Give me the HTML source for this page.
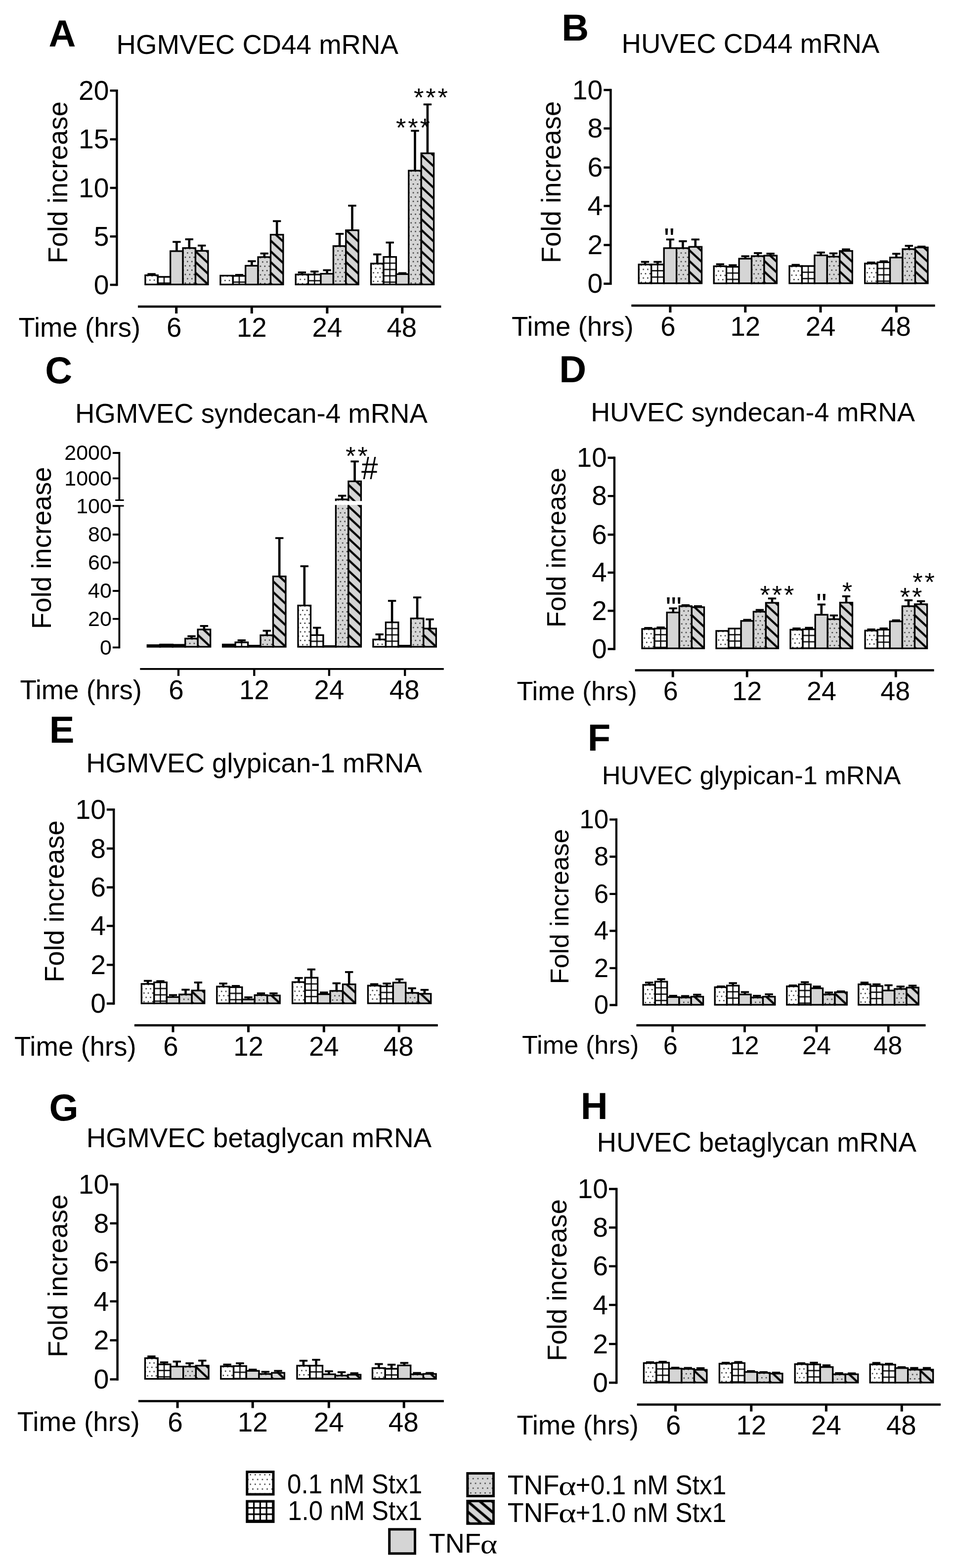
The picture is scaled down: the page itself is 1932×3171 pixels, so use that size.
<!DOCTYPE html>
<html lang="en">
<head>
<meta charset="utf-8">
<title>Proteoglycan mRNA expression in HGMVEC and HUVEC</title>
<style>
html,body{margin:0;padding:0;background:#fff;}
body{width:1932px;height:3171px;overflow:hidden;}
svg{display:block;}
text{font-family:"Liberation Sans",sans-serif;fill:#000;}
.ax{stroke:#000;fill:none;}
.b{stroke:#000;stroke-width:3.3;}
.es{stroke:#000;stroke-width:4.6;fill:none;}
.ec{stroke:#000;stroke-width:3.8;fill:none;}
</style>
</head>
<body>
<svg width="1932" height="3171" viewBox="0 0 1932 3171">
<defs>
<pattern id="pd" patternUnits="userSpaceOnUse" width="8.8" height="17.4" x="2" y="3">
<rect width="9" height="17.4" fill="#fff"/>
<rect x="0.1" y="0.1" width="2.4" height="2.4" fill="#1a1a1a"/><rect x="4.5" y="8.8" width="2.4" height="2.4" fill="#1a1a1a"/>
</pattern>
<pattern id="pyd" patternUnits="userSpaceOnUse" width="8.8" height="17.4" x="2" y="3">
<rect width="9" height="17.4" fill="#d5d5d5"/>
<rect x="0.1" y="0.1" width="2.4" height="2.4" fill="#2a2a2a"/><rect x="4.5" y="8.8" width="2.4" height="2.4" fill="#2a2a2a"/>
</pattern>
<pattern id="pg" patternUnits="userSpaceOnUse" width="12.8" height="12.8" x="0" y="0">
<rect width="12.8" height="12.8" fill="#fff"/>
<path d="M6.4 0V12.8M0 6.4H12.8" stroke="#000" stroke-width="2.4"/>
</pattern>
<pattern id="py" patternUnits="userSpaceOnUse" width="4" height="4">
<rect width="4" height="4" fill="#d5d5d5"/>
</pattern>
<pattern id="ph" patternUnits="userSpaceOnUse" width="23.2" height="21.7" x="0" y="0">
<rect width="23.2" height="21.7" fill="#d5d5d5"/>
<path d="M-23.2 -21.7L46.4 43.4M-23.2 0L23.2 43.4M0 -21.7L46.4 21.7" stroke="#000" stroke-width="4.3"/>
</pattern>
<pattern id="pdl" patternUnits="userSpaceOnUse" width="9.7" height="19.3" x="505.25" y="2981.05">
<rect width="9.7" height="19.3" fill="#fff"/>
<rect x="0.2" y="0.2" width="2.4" height="2.3" fill="#1a1a1a"/><rect x="5.05" y="9.8" width="2.4" height="2.3" fill="#1a1a1a"/>
</pattern>
<pattern id="pydl" patternUnits="userSpaceOnUse" width="9.7" height="19.4" x="955.8" y="2988.85">
<rect width="9.7" height="19.4" fill="#d5d5d5"/>
<rect x="0.2" y="0.2" width="2.4" height="2.3" fill="#2a2a2a"/><rect x="5.05" y="9.8" width="2.4" height="2.3" fill="#2a2a2a"/>
</pattern>
<pattern id="pgl" patternUnits="userSpaceOnUse" width="12.8" height="12.8" x="494.4" y="3030.1">
<rect width="12.8" height="12.8" fill="#fff"/>
<path d="M6.4 0V12.8M0 6.4H12.8" stroke="#000" stroke-width="3.2"/>
</pattern>
<pattern id="phl" patternUnits="userSpaceOnUse" width="24.7" height="21" x="948.66" y="3038.36">
<rect width="24.7" height="21" fill="#d5d5d5"/>
<path d="M-24.7 -21L49.4 42M-24.7 0L24.7 42M0 -21L49.4 21" stroke="#000" stroke-width="5.4"/>
</pattern>
<pattern id="A0" href="#pd" x="302" y="565.2"/>
<pattern id="A1" href="#pg" x="325.6" y="566.1"/>
<pattern id="A3" href="#pyd" x="378.1" y="510.2"/>
<pattern id="A4" href="#ph" x="420" y="574.5"/>
<pattern id="A5" href="#pd" x="454" y="565.9"/>
<pattern id="A6" href="#pg" x="477.6" y="564.1"/>
<pattern id="A8" href="#pyd" x="530.1" y="528.5"/>
<pattern id="A9" href="#ph" x="572" y="574.5"/>
<pattern id="A10" href="#pd" x="606.3" y="563.7"/>
<pattern id="A11" href="#pg" x="629.9" y="561.3"/>
<pattern id="A13" href="#pyd" x="682.4" y="506.2"/>
<pattern id="A14" href="#ph" x="724.3" y="574.5"/>
<pattern id="A15" href="#pd" x="758.7" y="541.6"/>
<pattern id="A16" href="#pg" x="782.3" y="525.8"/>
<pattern id="A18" href="#pyd" x="834.8" y="353.7"/>
<pattern id="A19" href="#ph" x="876.7" y="574.5"/>
<pattern id="B0" href="#pd" x="1300.3" y="543.5"/>
<pattern id="B1" href="#pg" x="1324" y="541.1"/>
<pattern id="B3" href="#pyd" x="1376.7" y="510.4"/>
<pattern id="B4" href="#ph" x="1418.7" y="572.1"/>
<pattern id="B5" href="#pd" x="1452.2" y="546.9"/>
<pattern id="B6" href="#pg" x="1475.9" y="545.8"/>
<pattern id="B8" href="#pyd" x="1528.6" y="526.4"/>
<pattern id="B9" href="#ph" x="1570.6" y="572.1"/>
<pattern id="B10" href="#pd" x="1605" y="546.6"/>
<pattern id="B11" href="#pg" x="1628.7" y="544.2"/>
<pattern id="B13" href="#pyd" x="1681.4" y="527.6"/>
<pattern id="B14" href="#ph" x="1723.4" y="572.1"/>
<pattern id="B15" href="#pd" x="1757.7" y="541.5"/>
<pattern id="B16" href="#pg" x="1781.4" y="536.6"/>
<pattern id="B18" href="#pyd" x="1834.1" y="512.3"/>
<pattern id="B19" href="#ph" x="1876.1" y="572.1"/>
<pattern id="C0" href="#pd" x="306.4" y="1313.2"/>
<pattern id="C1" href="#pg" x="330.1" y="1309.5"/>
<pattern id="C3" href="#pyd" x="382.8" y="1299.9"/>
<pattern id="C4" href="#ph" x="424.8" y="1307.1"/>
<pattern id="C5" href="#pd" x="458.7" y="1311.9"/>
<pattern id="C6" href="#pg" x="482.4" y="1305.1"/>
<pattern id="C8" href="#pyd" x="535.1" y="1293.2"/>
<pattern id="C9" href="#ph" x="577.1" y="1307.1"/>
<pattern id="C10" href="#pd" x="611.1" y="1233"/>
<pattern id="C11" href="#pg" x="634.8" y="1290.5"/>
<pattern id="C13" href="#pyd" x="687.5" y="1018.5"/>
<pattern id="C14" href="#ph" x="729.5" y="1307.1"/>
<pattern id="C15" href="#pd" x="763" y="1301.7"/>
<pattern id="C16" href="#pg" x="786.7" y="1264.7"/>
<pattern id="C18" href="#pyd" x="839.4" y="1259.1"/>
<pattern id="C19" href="#ph" x="881.4" y="1307.1"/>
<pattern id="D0" href="#pd" x="1307" y="1280.4"/>
<pattern id="D1" href="#pg" x="1330.2" y="1277.2"/>
<pattern id="D3" href="#pyd" x="1382.4" y="1234.3"/>
<pattern id="D4" href="#ph" x="1423.7" y="1310.3"/>
<pattern id="D5" href="#pd" x="1457" y="1284.4"/>
<pattern id="D6" href="#pg" x="1480.2" y="1277.2"/>
<pattern id="D8" href="#pyd" x="1532.4" y="1245.5"/>
<pattern id="D9" href="#ph" x="1573.7" y="1310.3"/>
<pattern id="D10" href="#pd" x="1607" y="1281.9"/>
<pattern id="D11" href="#pg" x="1630.2" y="1278.7"/>
<pattern id="D13" href="#pyd" x="1682.4" y="1260.6"/>
<pattern id="D14" href="#ph" x="1723.7" y="1310.3"/>
<pattern id="D15" href="#pd" x="1758.1" y="1283.7"/>
<pattern id="D16" href="#pg" x="1781.3" y="1279.5"/>
<pattern id="D18" href="#pyd" x="1833.5" y="1234.4"/>
<pattern id="D19" href="#ph" x="1874.8" y="1310.3"/>
<pattern id="E0" href="#pd" x="294.4" y="1998.3"/>
<pattern id="E1" href="#pg" x="318.1" y="1992.7"/>
<pattern id="E3" href="#pyd" x="370.8" y="2019.6"/>
<pattern id="E4" href="#ph" x="412.8" y="2028.2"/>
<pattern id="E5" href="#pd" x="446.9" y="2003.6"/>
<pattern id="E6" href="#pg" x="470.6" y="2002.5"/>
<pattern id="E8" href="#pyd" x="523.3" y="2020.9"/>
<pattern id="E9" href="#ph" x="565.3" y="2028.2"/>
<pattern id="E10" href="#pd" x="599.7" y="1994.6"/>
<pattern id="E11" href="#pg" x="623.4" y="1983.4"/>
<pattern id="E13" href="#pyd" x="676.1" y="2012.4"/>
<pattern id="E14" href="#ph" x="718.1" y="2028.2"/>
<pattern id="E15" href="#pd" x="752.4" y="2001.8"/>
<pattern id="E16" href="#pg" x="776.1" y="2000.7"/>
<pattern id="E18" href="#pyd" x="828.8" y="2016.4"/>
<pattern id="E19" href="#ph" x="870.8" y="2028.2"/>
<pattern id="F0" href="#pd" x="1309.1" y="2000.1"/>
<pattern id="F1" href="#pg" x="1331.1" y="1991.3"/>
<pattern id="F3" href="#pyd" x="1382" y="2025.7"/>
<pattern id="F4" href="#ph" x="1421.7" y="2031.1"/>
<pattern id="F5" href="#pd" x="1454.3" y="2004.9"/>
<pattern id="F6" href="#pg" x="1476.3" y="1999.3"/>
<pattern id="F8" href="#pyd" x="1527.2" y="2025.7"/>
<pattern id="F9" href="#ph" x="1566.9" y="2031.1"/>
<pattern id="F10" href="#pd" x="1599.8" y="2003.1"/>
<pattern id="F11" href="#pg" x="1621.8" y="1996.7"/>
<pattern id="F13" href="#pyd" x="1672.7" y="2019.6"/>
<pattern id="F14" href="#ph" x="1712.4" y="2031.1"/>
<pattern id="F15" href="#pd" x="1744.8" y="1999.1"/>
<pattern id="F16" href="#pg" x="1766.8" y="2000.2"/>
<pattern id="F18" href="#pyd" x="1817.7" y="2008.4"/>
<pattern id="F19" href="#ph" x="1857.4" y="2031.1"/>
<pattern id="G0" href="#pd" x="301.6" y="2755.1"/>
<pattern id="G1" href="#pg" x="325.7" y="2765.2"/>
<pattern id="G3" href="#pyd" x="378.8" y="2772.1"/>
<pattern id="G4" href="#ph" x="421.3" y="2787.6"/>
<pattern id="G5" href="#pd" x="454.9" y="2771.6"/>
<pattern id="G6" href="#pg" x="479" y="2768.7"/>
<pattern id="G8" href="#pyd" x="532.1" y="2787.1"/>
<pattern id="G9" href="#ph" x="574.6" y="2787.6"/>
<pattern id="G10" href="#pd" x="609.1" y="2770.4"/>
<pattern id="G11" href="#pg" x="633.2" y="2768"/>
<pattern id="G13" href="#pyd" x="686.3" y="2790.4"/>
<pattern id="G14" href="#ph" x="728.8" y="2787.6"/>
<pattern id="G15" href="#pd" x="761.6" y="2775.2"/>
<pattern id="G16" href="#pg" x="785.7" y="2774.2"/>
<pattern id="G18" href="#pyd" x="838.8" y="2787.8"/>
<pattern id="G19" href="#ph" x="881.3" y="2787.6"/>
<pattern id="H0" href="#pd" x="1310.4" y="2765"/>
<pattern id="H1" href="#pg" x="1334.2" y="2762"/>
<pattern id="H3" href="#pyd" x="1387" y="2776.9"/>
<pattern id="H4" href="#ph" x="1429.1" y="2795.2"/>
<pattern id="H5" href="#pd" x="1463.4" y="2766.3"/>
<pattern id="H6" href="#pg" x="1487.2" y="2762.6"/>
<pattern id="H8" href="#pyd" x="1540" y="2784.9"/>
<pattern id="H9" href="#ph" x="1582.1" y="2795.2"/>
<pattern id="H10" href="#pd" x="1616.3" y="2767.2"/>
<pattern id="H11" href="#pg" x="1640.1" y="2765.4"/>
<pattern id="H13" href="#pyd" x="1692.9" y="2787.8"/>
<pattern id="H14" href="#ph" x="1735" y="2795.2"/>
<pattern id="H15" href="#pd" x="1768.2" y="2767.8"/>
<pattern id="H16" href="#pg" x="1792" y="2765.9"/>
<pattern id="H18" href="#pyd" x="1844.8" y="2778.4"/>
<pattern id="H19" href="#ph" x="1886.9" y="2795.2"/>
</defs>
<g id="panelA">
<text x="98.5" y="93.5" font-size="76" font-weight="bold">A</text>
<text x="235.6" y="108.6" font-size="54.6">HGMVEC CD44 mRNA</text>
<text transform="translate(136.4,369) rotate(-90)" font-size="54.6" text-anchor="middle">Fold increase</text>
<text x="37.6" y="680.8" font-size="54.6">Time (hrs)</text>
<path d="M236.4 181.1V578.2" stroke-width="4.5" class="ax"/>
<path d="M222.6 183.3H236.4M222.6 281.7H236.4M222.6 380H236.4M222.6 478.3H236.4M222.6 576H236.4" stroke-width="4.5" class="ax"/>
<text x="220.6" y="201.9" font-size="55.3" text-anchor="end">20</text>
<text x="220.6" y="300.3" font-size="55.3" text-anchor="end">15</text>
<text x="220.6" y="398.6" font-size="55.3" text-anchor="end">10</text>
<text x="220.6" y="496.9" font-size="55.3" text-anchor="end">5</text>
<text x="220.6" y="594.6" font-size="55.3" text-anchor="end">0</text>
<path d="M279 620H892.4" stroke-width="4.5" class="ax"/>
<path d="M356.7 620V634M509.3 620V634M661.9 620V634M813.8 620V634" stroke-width="5" class="ax"/>
<text x="352.2" y="680.8" font-size="54.6" text-anchor="middle">6</text>
<text x="509.3" y="680.8" font-size="54.6" text-anchor="middle">12</text>
<text x="661.9" y="680.8" font-size="54.6" text-anchor="middle">24</text>
<text x="812.8" y="680.8" font-size="54.6" text-anchor="middle">48</text>
<path d="M306.6 556V554.2" class="es"/><path d="M298.4 554.2H314.8" class="ec"/>
<rect x="293.9" y="556.6" width="25.4" height="18.7" fill="url(#A0)" class="b"/>
<rect x="319.3" y="559.9" width="25.4" height="15.4" fill="url(#A1)" class="b"/>
<path d="M357.4 507.3V489.2" class="es"/><path d="M349.2 489.2H365.6" class="ec"/>
<rect x="344.7" y="507.9" width="25.4" height="67.4" fill="#d5d5d5" class="b"/>
<path d="M382.8 501V483.9" class="es"/><path d="M374.6 483.9H391" class="ec"/>
<rect x="370.1" y="501.6" width="25.4" height="73.7" fill="url(#A3)" class="b"/>
<path d="M408.2 506.7V496.6" class="es"/><path d="M400 496.6H416.4" class="ec"/>
<rect x="395.5" y="507.3" width="25.4" height="68" fill="url(#A4)" class="b"/>
<rect x="445.9" y="557.4" width="25.4" height="18" fill="url(#A5)" class="b"/>
<path d="M484 557.3V555.9" class="es"/><path d="M475.8 555.9H492.2" class="ec"/>
<rect x="471.3" y="557.9" width="25.4" height="17.4" fill="url(#A6)" class="b"/>
<path d="M509.4 536.7V528.2" class="es"/><path d="M501.2 528.2H517.6" class="ec"/>
<rect x="496.7" y="537.4" width="25.4" height="38" fill="#d5d5d5" class="b"/>
<path d="M534.8 519.3V512.6" class="es"/><path d="M526.6 512.6H543" class="ec"/>
<rect x="522.1" y="519.9" width="25.4" height="55.4" fill="url(#A8)" class="b"/>
<path d="M560.2 474V447.2" class="es"/><path d="M552 447.2H568.4" class="ec"/>
<rect x="547.5" y="474.6" width="25.4" height="100.7" fill="url(#A9)" class="b"/>
<path d="M610.9 554.5V550.9" class="es"/><path d="M602.7 550.9H619.1" class="ec"/>
<rect x="598.2" y="555.1" width="25.4" height="20.2" fill="url(#A10)" class="b"/>
<path d="M636.3 554.5V549.1" class="es"/><path d="M628.1 549.1H644.5" class="ec"/>
<rect x="623.6" y="555.1" width="25.4" height="20.2" fill="url(#A11)" class="b"/>
<path d="M661.7 553V546.4" class="es"/><path d="M653.5 546.4H669.9" class="ec"/>
<rect x="649" y="553.6" width="25.4" height="21.7" fill="#d5d5d5" class="b"/>
<path d="M687.1 497V472.9" class="es"/><path d="M678.9 472.9H695.3" class="ec"/>
<rect x="674.4" y="497.6" width="25.4" height="77.7" fill="url(#A13)" class="b"/>
<path d="M712.5 465V415.9" class="es"/><path d="M704.3 415.9H720.7" class="ec"/>
<rect x="699.8" y="465.6" width="25.4" height="109.7" fill="url(#A14)" class="b"/>
<path d="M763.3 532.4V514.5" class="es"/><path d="M755.1 514.5H771.5" class="ec"/>
<rect x="750.6" y="533" width="25.4" height="42.3" fill="url(#A15)" class="b"/>
<path d="M788.7 519V490.5" class="es"/><path d="M780.5 490.5H796.9" class="ec"/>
<rect x="776" y="519.6" width="25.4" height="55.7" fill="url(#A16)" class="b"/>
<path d="M814.1 553.7V552.4" class="es"/><path d="M805.9 552.4H822.3" class="ec"/>
<rect x="801.4" y="554.4" width="25.4" height="21" fill="#d5d5d5" class="b"/>
<path d="M839.5 344.5V264.5" class="es"/><path d="M831.3 264.5H847.7" class="ec"/>
<rect x="826.8" y="345.1" width="25.4" height="230.2" fill="url(#A18)" class="b"/>
<path d="M864.9 309.4V211.2" class="es"/><path d="M856.7 211.2H873.1" class="ec"/>
<rect x="852.2" y="310" width="25.4" height="265.3" fill="url(#A19)" class="b"/>
<text x="873.4" y="214.8" font-size="52.5" text-anchor="middle" letter-spacing="3.8">***</text>
<text x="837.4" y="275.8" font-size="52.5" text-anchor="middle" letter-spacing="3.8">***</text>
</g>
<g id="panelB">
<text x="1136.3" y="82" font-size="76" font-weight="bold">B</text>
<text x="1257.5" y="106.8" font-size="54.6">HUVEC CD44 mRNA</text>
<text transform="translate(1133.5,368.5) rotate(-90)" font-size="54.6" text-anchor="middle">Fold increase</text>
<text x="1035" y="679.3" font-size="54.6">Time (hrs)</text>
<path d="M1235.4 179.8V576" stroke-width="4.5" class="ax"/>
<path d="M1221.3 182H1235.4M1221.3 259.8H1235.4M1221.3 338.7H1235.4M1221.3 416.5H1235.4M1221.3 495.6H1235.4M1221.3 573.7H1235.4" stroke-width="4.5" class="ax"/>
<text x="1219.3" y="200.6" font-size="55.3" text-anchor="end">10</text>
<text x="1219.3" y="278.4" font-size="55.3" text-anchor="end">8</text>
<text x="1219.3" y="357.3" font-size="55.3" text-anchor="end">6</text>
<text x="1219.3" y="435.1" font-size="55.3" text-anchor="end">4</text>
<text x="1219.3" y="514.2" font-size="55.3" text-anchor="end">2</text>
<text x="1219.3" y="592.3" font-size="55.3" text-anchor="end">0</text>
<path d="M1277.3 617.9H1891.6" stroke-width="4.5" class="ax"/>
<path d="M1355.9 617.9V631.9M1507.8 617.9V631.9M1660 617.9V631.9M1813.4 617.9V631.9" stroke-width="5" class="ax"/>
<text x="1351.4" y="678.7" font-size="54.6" text-anchor="middle">6</text>
<text x="1507.8" y="678.7" font-size="54.6" text-anchor="middle">12</text>
<text x="1660" y="678.7" font-size="54.6" text-anchor="middle">24</text>
<text x="1812.4" y="678.7" font-size="54.6" text-anchor="middle">48</text>
<path d="M1305 534.3V529.6" class="es"/><path d="M1296.8 529.6H1313.2" class="ec"/>
<rect x="1292.2" y="534.9" width="25.5" height="38" fill="url(#B0)" class="b"/>
<path d="M1330.4 534.3V529.6" class="es"/><path d="M1322.2 529.6H1338.6" class="ec"/>
<rect x="1317.7" y="534.9" width="25.5" height="38" fill="url(#B1)" class="b"/>
<path d="M1355.9 501.2V484.3" class="es"/><path d="M1347.7 484.3H1364.1" class="ec"/>
<rect x="1343.2" y="501.8" width="25.5" height="71.1" fill="#d5d5d5" class="b"/>
<path d="M1381.4 501.2V487.8" class="es"/><path d="M1373.2 487.8H1389.6" class="ec"/>
<rect x="1368.6" y="501.8" width="25.5" height="71.1" fill="url(#B3)" class="b"/>
<path d="M1406.8 498.6V484.3" class="es"/><path d="M1398.6 484.3H1415" class="ec"/>
<rect x="1394.1" y="499.2" width="25.5" height="73.7" fill="url(#B4)" class="b"/>
<path d="M1456.9 537.7V534.4" class="es"/><path d="M1448.7 534.4H1465.1" class="ec"/>
<rect x="1444.2" y="538.4" width="25.5" height="34.6" fill="url(#B5)" class="b"/>
<path d="M1482.3 539V536.3" class="es"/><path d="M1474.1 536.3H1490.5" class="ec"/>
<rect x="1469.6" y="539.6" width="25.5" height="33.3" fill="url(#B6)" class="b"/>
<path d="M1507.8 522.5V518.2" class="es"/><path d="M1499.6 518.2H1516" class="ec"/>
<rect x="1495.1" y="523.1" width="25.5" height="49.8" fill="#d5d5d5" class="b"/>
<path d="M1533.3 517.2V511.8" class="es"/><path d="M1525.1 511.8H1541.5" class="ec"/>
<rect x="1520.5" y="517.9" width="25.5" height="55.1" fill="url(#B8)" class="b"/>
<path d="M1558.7 516.4V512.9" class="es"/><path d="M1550.5 512.9H1566.9" class="ec"/>
<rect x="1546" y="517" width="25.5" height="55.9" fill="url(#B9)" class="b"/>
<path d="M1609.7 537.4V535.6" class="es"/><path d="M1601.5 535.6H1617.9" class="ec"/>
<rect x="1597" y="538" width="25.5" height="34.9" fill="url(#B10)" class="b"/>
<rect x="1622.4" y="538" width="25.5" height="34.9" fill="url(#B11)" class="b"/>
<path d="M1660.6 515.8V510.6" class="es"/><path d="M1652.4 510.6H1668.8" class="ec"/>
<rect x="1647.9" y="516.4" width="25.5" height="56.5" fill="#d5d5d5" class="b"/>
<path d="M1686.1 518.4V512.4" class="es"/><path d="M1677.9 512.4H1694.3" class="ec"/>
<rect x="1673.3" y="519" width="25.5" height="53.9" fill="url(#B13)" class="b"/>
<path d="M1711.5 506.9V504.3" class="es"/><path d="M1703.3 504.3H1719.7" class="ec"/>
<rect x="1698.8" y="507.5" width="25.5" height="65.4" fill="url(#B14)" class="b"/>
<path d="M1762.4 532.3V530.9" class="es"/><path d="M1754.2 530.9H1770.6" class="ec"/>
<rect x="1749.7" y="532.9" width="25.5" height="40" fill="url(#B15)" class="b"/>
<path d="M1787.8 529.8V528.4" class="es"/><path d="M1779.6 528.4H1796" class="ec"/>
<rect x="1775.1" y="530.4" width="25.5" height="42.5" fill="url(#B16)" class="b"/>
<path d="M1813.3 520.1V513.2" class="es"/><path d="M1805.1 513.2H1821.5" class="ec"/>
<rect x="1800.6" y="520.8" width="25.5" height="52.2" fill="#d5d5d5" class="b"/>
<path d="M1838.8 503.1V497.1" class="es"/><path d="M1830.6 497.1H1847" class="ec"/>
<rect x="1826" y="503.8" width="25.5" height="69.2" fill="url(#B18)" class="b"/>
<path d="M1864.2 499.8V498.7" class="es"/><path d="M1856 498.7H1872.4" class="ec"/>
<rect x="1851.5" y="500.4" width="25.5" height="72.5" fill="url(#B19)" class="b"/>
<text x="1354" y="502.5" font-size="60" text-anchor="middle">"</text>
</g>
<g id="panelC">
<text x="91.2" y="774.5" font-size="76" font-weight="bold">C</text>
<text x="152" y="855.1" font-size="54.6">HGMVEC syndecan-4 mRNA</text>
<text transform="translate(103,1108.3) rotate(-90)" font-size="54.6" text-anchor="middle">Fold increase</text>
<text x="40.4" y="1413.8" font-size="54.6">Time (hrs)</text>
<path d="M241.4 914.1V1011.5M241.4 1023V1311.2" stroke-width="3.8" class="ax"/>
<path d="M233.2 1011.5H250.6M227.9 1023H250.6" stroke-width="3.2" class="ax"/>
<path d="M227.9 916H241.4M227.9 967.3H241.4M227.9 1023.3H241.4M227.9 1081H241.4M227.9 1137.7H241.4M227.9 1195H241.4M227.9 1251.7H241.4M227.9 1309.3H241.4" stroke-width="3.8" class="ax"/>
<text x="225.9" y="930.2" font-size="43" text-anchor="end">2000</text>
<text x="225.9" y="981.5" font-size="43" text-anchor="end">1000</text>
<text x="225.9" y="1037.5" font-size="43" text-anchor="end">100</text>
<text x="225.9" y="1095.2" font-size="43" text-anchor="end">80</text>
<text x="225.9" y="1151.9" font-size="43" text-anchor="end">60</text>
<text x="225.9" y="1209.2" font-size="43" text-anchor="end">40</text>
<text x="225.9" y="1265.9" font-size="43" text-anchor="end">20</text>
<text x="225.9" y="1323.5" font-size="43" text-anchor="end">0</text>
<path d="M283.3 1352.9H897.8" stroke-width="3.8" class="ax"/>
<path d="M361 1352.9V1366.9M514.3 1352.9V1366.9M665.9 1352.9V1366.9M819.2 1352.9V1366.9" stroke-width="4.3" class="ax"/>
<text x="356.5" y="1413.8" font-size="54.6" text-anchor="middle">6</text>
<text x="514.3" y="1413.8" font-size="54.6" text-anchor="middle">12</text>
<text x="665.9" y="1413.8" font-size="54.6" text-anchor="middle">24</text>
<text x="818.2" y="1413.8" font-size="54.6" text-anchor="middle">48</text>
<rect x="298.3" y="1304.7" width="25.5" height="3.3" fill="#000" class="b"/>
<rect x="323.8" y="1303.4" width="25.5" height="4.6" fill="#000" class="b"/>
<rect x="349.3" y="1304" width="25.5" height="4" fill="#000" class="b"/>
<path d="M387.5 1290.7V1286.6" class="es"/><path d="M379.3 1286.6H395.7" class="ec"/>
<rect x="374.7" y="1291.4" width="25.5" height="16.6" fill="url(#C3)" class="b"/>
<path d="M412.9 1272.3V1265.9" class="es"/><path d="M404.7 1265.9H421.1" class="ec"/>
<rect x="400.2" y="1273" width="25.5" height="35" fill="url(#C4)" class="b"/>
<rect x="450.6" y="1303.4" width="25.5" height="4.6" fill="#000" class="b"/>
<path d="M488.8 1298.3V1294.9" class="es"/><path d="M480.6 1294.9H497" class="ec"/>
<rect x="476.1" y="1299" width="25.5" height="9" fill="url(#C6)" class="b"/>
<rect x="501.6" y="1305.7" width="25.5" height="2.3" fill="#000" class="b"/>
<path d="M539.8 1284V1275.6" class="es"/><path d="M531.6 1275.6H548" class="ec"/>
<rect x="527" y="1284.7" width="25.5" height="23.3" fill="url(#C8)" class="b"/>
<path d="M565.2 1165V1088.2" class="es"/><path d="M557 1088.2H573.4" class="ec"/>
<rect x="552.5" y="1165.7" width="25.5" height="142.3" fill="url(#C9)" class="b"/>
<path d="M615.8 1223.8V1145.1" class="es"/><path d="M607.6 1145.1H624" class="ec"/>
<rect x="603" y="1224.5" width="25.5" height="83.5" fill="url(#C10)" class="b"/>
<path d="M641.2 1283.7V1269.5" class="es"/><path d="M633 1269.5H649.4" class="ec"/>
<rect x="628.5" y="1284.4" width="25.5" height="23.6" fill="url(#C11)" class="b"/>
<rect x="654" y="1306.6" width="25.5" height="1.4" fill="#000" class="b"/>
<path d="M692.2 1009.3V1002.5" class="es"/><path d="M684 1002.5H700.4" class="ec"/>
<rect x="679.4" y="1009.9" width="25.5" height="298" fill="url(#C13)" class="b"/>
<path d="M717.6 972.7V933.2" class="es"/><path d="M709.4 933.2H725.8" class="ec"/>
<rect x="704.9" y="973.4" width="25.5" height="334.6" fill="url(#C14)" class="b"/>
<path d="M767.7 1292.5V1282.9" class="es"/><path d="M759.5 1282.9H775.9" class="ec"/>
<rect x="754.9" y="1293.2" width="25.5" height="14.8" fill="url(#C15)" class="b"/>
<path d="M793.1 1257.9V1215.1" class="es"/><path d="M784.9 1215.1H801.3" class="ec"/>
<rect x="780.4" y="1258.6" width="25.5" height="49.4" fill="url(#C16)" class="b"/>
<rect x="805.9" y="1305.7" width="25.5" height="2.3" fill="#000" class="b"/>
<path d="M844.1 1249.9V1208.2" class="es"/><path d="M835.9 1208.2H852.3" class="ec"/>
<rect x="831.3" y="1250.6" width="25.5" height="57.4" fill="url(#C18)" class="b"/>
<path d="M869.5 1270.4V1252.5" class="es"/><path d="M861.3 1252.5H877.7" class="ec"/>
<rect x="856.8" y="1271.1" width="25.5" height="36.9" fill="url(#C19)" class="b"/>
<rect x="677" y="1013.2" width="55.8" height="8" fill="#fff"/>
<text x="723.4" y="940.3" font-size="52.5" text-anchor="middle" letter-spacing="3.8">**</text>
<text x="747.7" y="969" font-size="65" text-anchor="middle" textLength="33.4" lengthAdjust="spacingAndGlyphs">#</text>
</g>
<g id="panelD">
<text x="1131.2" y="773.3" font-size="76" font-weight="bold">D</text>
<text x="1195.2" y="851.6" font-size="53.9">HUVEC syndecan-4 mRNA</text>
<text transform="translate(1144,1107.5) rotate(-90)" font-size="53.9" text-anchor="middle">Fold increase</text>
<text x="1045.4" y="1415.5" font-size="53.9">Time (hrs)</text>
<path d="M1242.9 923.6V1314.7" stroke-width="4.4" class="ax"/>
<path d="M1229.5 925.8H1242.9M1229.5 1003.1H1242.9M1229.5 1081.2H1242.9M1229.5 1158H1242.9M1229.5 1235.2H1242.9M1229.5 1312.5H1242.9" stroke-width="4.4" class="ax"/>
<text x="1227.5" y="944.1" font-size="54.6" text-anchor="end">10</text>
<text x="1227.5" y="1021.4" font-size="54.6" text-anchor="end">8</text>
<text x="1227.5" y="1099.5" font-size="54.6" text-anchor="end">6</text>
<text x="1227.5" y="1176.3" font-size="54.6" text-anchor="end">4</text>
<text x="1227.5" y="1253.5" font-size="54.6" text-anchor="end">2</text>
<text x="1227.5" y="1330.8" font-size="54.6" text-anchor="end">0</text>
<path d="M1284.7 1355.5H1889.6" stroke-width="4.4" class="ax"/>
<path d="M1361.2 1355.5V1369.5M1511.3 1355.5V1369.5M1662 1355.5V1369.5M1812.3 1355.5V1369.5" stroke-width="4.9" class="ax"/>
<text x="1356.7" y="1415.5" font-size="53.9" text-anchor="middle">6</text>
<text x="1511.3" y="1415.5" font-size="53.9" text-anchor="middle">12</text>
<text x="1662" y="1415.5" font-size="53.9" text-anchor="middle">24</text>
<text x="1811.3" y="1415.5" font-size="53.9" text-anchor="middle">48</text>
<path d="M1311.5 1271.2V1269.9" class="es"/><path d="M1303.3 1269.9H1319.7" class="ec"/>
<rect x="1299" y="1271.9" width="25.1" height="39.3" fill="url(#D0)" class="b"/>
<path d="M1336.6 1270.4V1268.9" class="es"/><path d="M1328.4 1268.9H1344.8" class="ec"/>
<rect x="1324.1" y="1271.1" width="25.1" height="40.1" fill="url(#D1)" class="b"/>
<path d="M1361.8 1237.9V1230.3" class="es"/><path d="M1353.5 1230.3H1370" class="ec"/>
<rect x="1349.2" y="1238.6" width="25.1" height="72.6" fill="#d5d5d5" class="b"/>
<path d="M1386.9 1225.1V1223.9" class="es"/><path d="M1378.7 1223.9H1395.1" class="ec"/>
<rect x="1374.3" y="1225.8" width="25.1" height="85.4" fill="url(#D3)" class="b"/>
<path d="M1412 1227.2V1225.9" class="es"/><path d="M1403.8 1225.9H1420.2" class="ec"/>
<rect x="1399.4" y="1227.9" width="25.1" height="83.3" fill="url(#D4)" class="b"/>
<rect x="1449" y="1275.9" width="25.1" height="35.3" fill="url(#D5)" class="b"/>
<rect x="1474.1" y="1271.1" width="25.1" height="40.1" fill="url(#D6)" class="b"/>
<path d="M1511.8 1255V1253.5" class="es"/><path d="M1503.5 1253.5H1520" class="ec"/>
<rect x="1499.2" y="1255.7" width="25.1" height="55.5" fill="#d5d5d5" class="b"/>
<path d="M1536.9 1236.3V1233.5" class="es"/><path d="M1528.7 1233.5H1545.1" class="ec"/>
<rect x="1524.3" y="1237" width="25.1" height="74.2" fill="url(#D8)" class="b"/>
<path d="M1562 1218.4V1210.3" class="es"/><path d="M1553.8 1210.3H1570.2" class="ec"/>
<rect x="1549.4" y="1219.1" width="25.1" height="92.1" fill="url(#D9)" class="b"/>
<path d="M1611.5 1272.7V1270.9" class="es"/><path d="M1603.3 1270.9H1619.7" class="ec"/>
<rect x="1599" y="1273.4" width="25.1" height="37.8" fill="url(#D10)" class="b"/>
<path d="M1636.6 1271.9V1269.6" class="es"/><path d="M1628.4 1269.6H1644.8" class="ec"/>
<rect x="1624.1" y="1272.6" width="25.1" height="38.6" fill="url(#D11)" class="b"/>
<path d="M1661.8 1242.6V1222.5" class="es"/><path d="M1653.5 1222.5H1670" class="ec"/>
<rect x="1649.2" y="1243.2" width="25.1" height="67.9" fill="#d5d5d5" class="b"/>
<path d="M1686.9 1251.4V1244.6" class="es"/><path d="M1678.7 1244.6H1695.1" class="ec"/>
<rect x="1674.3" y="1252.1" width="25.1" height="59.1" fill="url(#D13)" class="b"/>
<path d="M1712 1218V1205.9" class="es"/><path d="M1703.8 1205.9H1720.2" class="ec"/>
<rect x="1699.4" y="1218.7" width="25.1" height="92.5" fill="url(#D14)" class="b"/>
<path d="M1762.6 1274.5V1272.9" class="es"/><path d="M1754.4 1272.9H1770.8" class="ec"/>
<rect x="1750.1" y="1275.2" width="25.1" height="36" fill="url(#D15)" class="b"/>
<path d="M1787.7 1272.7V1270.9" class="es"/><path d="M1779.5 1270.9H1795.9" class="ec"/>
<rect x="1775.2" y="1273.4" width="25.1" height="37.8" fill="url(#D16)" class="b"/>
<path d="M1812.9 1255.9V1254.5" class="es"/><path d="M1804.7 1254.5H1821.1" class="ec"/>
<rect x="1800.3" y="1256.6" width="25.1" height="54.6" fill="#d5d5d5" class="b"/>
<path d="M1838 1225.2V1213.9" class="es"/><path d="M1829.8 1213.9H1846.2" class="ec"/>
<rect x="1825.4" y="1225.9" width="25.1" height="85.3" fill="url(#D18)" class="b"/>
<path d="M1863.1 1221.2V1215.8" class="es"/><path d="M1854.9 1215.8H1871.3" class="ec"/>
<rect x="1850.5" y="1221.9" width="25.1" height="89.3" fill="url(#D19)" class="b"/>
<text x="1363.2" y="1249.2" font-size="60" text-anchor="middle">"'</text>
<text x="1573.9" y="1220.8" font-size="52.5" text-anchor="middle" letter-spacing="3.8">***</text>
<text x="1662" y="1242.1" font-size="60" text-anchor="middle">"</text>
<text x="1715.9" y="1214.3" font-size="52.5" text-anchor="middle" letter-spacing="3.8">*</text>
<text x="1845.1" y="1224.8" font-size="52.5" text-anchor="middle" letter-spacing="3.8">**</text>
<text x="1870.4" y="1194.8" font-size="52.5" text-anchor="middle" letter-spacing="3.8">**</text>
</g>
<g id="panelE">
<text x="99.7" y="1502.4" font-size="76" font-weight="bold">E</text>
<text x="174.2" y="1562.3" font-size="54.6">HGMVEC glypican-1 mRNA</text>
<text transform="translate(128.7,1822.9) rotate(-90)" font-size="54.6" text-anchor="middle">Fold increase</text>
<text x="29" y="2134.7" font-size="54.6">Time (hrs)</text>
<path d="M230.2 1635V2031.8" stroke-width="4.5" class="ax"/>
<path d="M215.9 1637.3H230.2M215.9 1715.9H230.2M215.9 1794.5H230.2M215.9 1872.4H230.2M215.9 1951.2H230.2M215.9 2029.6H230.2" stroke-width="4.5" class="ax"/>
<text x="213.9" y="1655.9" font-size="55.3" text-anchor="end">10</text>
<text x="213.9" y="1734.5" font-size="55.3" text-anchor="end">8</text>
<text x="213.9" y="1813.1" font-size="55.3" text-anchor="end">6</text>
<text x="213.9" y="1891" font-size="55.3" text-anchor="end">4</text>
<text x="213.9" y="1969.8" font-size="55.3" text-anchor="end">2</text>
<text x="213.9" y="2048.2" font-size="55.3" text-anchor="end">0</text>
<path d="M271.9 2073.5H885.8" stroke-width="4.5" class="ax"/>
<path d="M350 2073.5V2087.5M502.5 2073.5V2087.5M655.3 2073.5V2087.5M807.2 2073.5V2087.5" stroke-width="5" class="ax"/>
<text x="345.5" y="2135.1" font-size="54.6" text-anchor="middle">6</text>
<text x="502.5" y="2135.1" font-size="54.6" text-anchor="middle">12</text>
<text x="655.3" y="2135.1" font-size="54.6" text-anchor="middle">24</text>
<text x="806.2" y="2135.1" font-size="54.6" text-anchor="middle">48</text>
<path d="M299.1 1989.1V1983.6" class="es"/><path d="M290.9 1983.6H307.3" class="ec"/>
<rect x="286.3" y="1989.8" width="25.5" height="39.3" fill="url(#E0)" class="b"/>
<path d="M324.5 1985.9V1984.2" class="es"/><path d="M316.3 1984.2H332.7" class="ec"/>
<rect x="311.8" y="1986.6" width="25.5" height="42.5" fill="url(#E1)" class="b"/>
<path d="M350 2015.7V2012.4" class="es"/><path d="M341.8 2012.4H358.2" class="ec"/>
<rect x="337.3" y="2016.4" width="25.5" height="12.7" fill="#d5d5d5" class="b"/>
<path d="M375.5 2010.4V2001.5" class="es"/><path d="M367.3 2001.5H383.7" class="ec"/>
<rect x="362.7" y="2011.1" width="25.5" height="18" fill="url(#E3)" class="b"/>
<path d="M400.9 2002.4V1986.9" class="es"/><path d="M392.7 1986.9H409.1" class="ec"/>
<rect x="388.2" y="2003.1" width="25.5" height="26" fill="url(#E4)" class="b"/>
<path d="M451.6 1994.4V1989" class="es"/><path d="M443.4 1989H459.8" class="ec"/>
<rect x="438.8" y="1995.1" width="25.5" height="34" fill="url(#E5)" class="b"/>
<path d="M477 1995.7V1993.9" class="es"/><path d="M468.8 1993.9H485.2" class="ec"/>
<rect x="464.3" y="1996.4" width="25.5" height="32.7" fill="url(#E6)" class="b"/>
<path d="M502.5 2020.5V2016.9" class="es"/><path d="M494.3 2016.9H510.7" class="ec"/>
<rect x="489.8" y="2021.2" width="25.5" height="7.9" fill="#d5d5d5" class="b"/>
<path d="M528 2011.7V2008.9" class="es"/><path d="M519.8 2008.9H536.2" class="ec"/>
<rect x="515.2" y="2012.4" width="25.5" height="16.7" fill="url(#E8)" class="b"/>
<path d="M553.4 2012.5V2008.9" class="es"/><path d="M545.2 2008.9H561.6" class="ec"/>
<rect x="540.7" y="2013.2" width="25.5" height="15.9" fill="url(#E9)" class="b"/>
<path d="M604.4 1985.4V1977.8" class="es"/><path d="M596.2 1977.8H612.6" class="ec"/>
<rect x="591.6" y="1986.1" width="25.5" height="43" fill="url(#E10)" class="b"/>
<path d="M629.8 1976.6V1960.5" class="es"/><path d="M621.6 1960.5H638" class="ec"/>
<rect x="617.1" y="1977.2" width="25.5" height="51.8" fill="url(#E11)" class="b"/>
<path d="M655.3 2009.9V2007.1" class="es"/><path d="M647.1 2007.1H663.5" class="ec"/>
<rect x="642.6" y="2010.6" width="25.5" height="18.5" fill="#d5d5d5" class="b"/>
<path d="M680.8 2003.2V1988.5" class="es"/><path d="M672.6 1988.5H689" class="ec"/>
<rect x="668" y="2003.9" width="25.5" height="25.2" fill="url(#E13)" class="b"/>
<path d="M706.2 1989.9V1965.8" class="es"/><path d="M698 1965.8H714.4" class="ec"/>
<rect x="693.5" y="1990.6" width="25.5" height="38.5" fill="url(#E14)" class="b"/>
<path d="M757.1 1992.6V1990.3" class="es"/><path d="M748.9 1990.3H765.3" class="ec"/>
<rect x="744.4" y="1993.2" width="25.5" height="35.8" fill="url(#E15)" class="b"/>
<path d="M782.5 1993.9V1989" class="es"/><path d="M774.3 1989H790.7" class="ec"/>
<rect x="769.8" y="1994.6" width="25.5" height="34.5" fill="url(#E16)" class="b"/>
<path d="M808 1986.4V1980.5" class="es"/><path d="M799.8 1980.5H816.2" class="ec"/>
<rect x="795.3" y="1987.1" width="25.5" height="42" fill="#d5d5d5" class="b"/>
<path d="M833.5 2007.2V1998.6" class="es"/><path d="M825.3 1998.6H841.7" class="ec"/>
<rect x="820.7" y="2007.9" width="25.5" height="21.2" fill="url(#E18)" class="b"/>
<path d="M858.9 2009.1V2001.8" class="es"/><path d="M850.7 2001.8H867.1" class="ec"/>
<rect x="846.2" y="2009.8" width="25.5" height="19.3" fill="url(#E19)" class="b"/>
</g>
<g id="panelF">
<text x="1188.8" y="1517.8" font-size="76" font-weight="bold">F</text>
<text x="1217.8" y="1585.9" font-size="52.3">HUVEC glypican-1 mRNA</text>
<text transform="translate(1150.3,1833.3) rotate(-90)" font-size="52.3" text-anchor="middle">Fold increase</text>
<text x="1056.1" y="2130.5" font-size="52.3">Time (hrs)</text>
<path d="M1246.9 1655.1V2034.7" stroke-width="4.3" class="ax"/>
<path d="M1233.2 1657.3H1246.9M1233.2 1732.5H1246.9M1233.2 1807.9H1246.9M1233.2 1882.5H1246.9M1233.2 1957.9H1246.9M1233.2 2032.5H1246.9" stroke-width="4.3" class="ax"/>
<text x="1231.2" y="1675" font-size="52.9" text-anchor="end">10</text>
<text x="1231.2" y="1750.2" font-size="52.9" text-anchor="end">8</text>
<text x="1231.2" y="1825.6" font-size="52.9" text-anchor="end">6</text>
<text x="1231.2" y="1900.2" font-size="52.9" text-anchor="end">4</text>
<text x="1231.2" y="1975.6" font-size="52.9" text-anchor="end">2</text>
<text x="1231.2" y="2050.2" font-size="52.9" text-anchor="end">0</text>
<path d="M1287.4 2073.5H1872.6" stroke-width="4.3" class="ax"/>
<path d="M1360.7 2073.5V2087.5M1506.5 2073.5V2087.5M1652 2073.5V2087.5M1797.2 2073.5V2087.5" stroke-width="4.8" class="ax"/>
<text x="1356.2" y="2132" font-size="52.3" text-anchor="middle">6</text>
<text x="1506.5" y="2132" font-size="52.3" text-anchor="middle">12</text>
<text x="1652" y="2132" font-size="52.3" text-anchor="middle">24</text>
<text x="1796.2" y="2132" font-size="52.3" text-anchor="middle">48</text>
<path d="M1313.2 1990.9V1987.1" class="es"/><path d="M1305 1987.1H1321.4" class="ec"/>
<rect x="1301.1" y="1991.6" width="24.3" height="40.4" fill="url(#F0)" class="b"/>
<path d="M1337.5 1984.5V1980.2" class="es"/><path d="M1329.3 1980.2H1345.7" class="ec"/>
<rect x="1325.4" y="1985.2" width="24.3" height="46.8" fill="url(#F1)" class="b"/>
<path d="M1361.8 2015.7V2013.8" class="es"/><path d="M1353.6 2013.8H1370" class="ec"/>
<rect x="1349.7" y="2016.4" width="24.3" height="15.6" fill="#d5d5d5" class="b"/>
<path d="M1386.1 2016.5V2014.3" class="es"/><path d="M1377.9 2014.3H1394.3" class="ec"/>
<rect x="1374" y="2017.2" width="24.3" height="14.8" fill="url(#F3)" class="b"/>
<path d="M1410.4 2014.9V2011.6" class="es"/><path d="M1402.2 2011.6H1418.6" class="ec"/>
<rect x="1398.3" y="2015.6" width="24.3" height="16.4" fill="url(#F4)" class="b"/>
<path d="M1458.4 1995.7V1994.9" class="es"/><path d="M1450.2 1994.9H1466.6" class="ec"/>
<rect x="1446.2" y="1996.4" width="24.3" height="35.6" fill="url(#F5)" class="b"/>
<path d="M1482.7 1992.5V1988.2" class="es"/><path d="M1474.5 1988.2H1490.9" class="ec"/>
<rect x="1470.5" y="1993.2" width="24.3" height="38.8" fill="url(#F6)" class="b"/>
<path d="M1507 2010.4V2006.3" class="es"/><path d="M1498.8 2006.3H1515.2" class="ec"/>
<rect x="1494.8" y="2011.1" width="24.3" height="20.9" fill="#d5d5d5" class="b"/>
<path d="M1531.3 2016.5V2013.8" class="es"/><path d="M1523.1 2013.8H1539.5" class="ec"/>
<rect x="1519.2" y="2017.2" width="24.3" height="14.8" fill="url(#F8)" class="b"/>
<path d="M1555.6 2014.9V2010.8" class="es"/><path d="M1547.4 2010.8H1563.8" class="ec"/>
<rect x="1543.5" y="2015.6" width="24.3" height="16.4" fill="url(#F9)" class="b"/>
<path d="M1603.9 1993.9V1992.9" class="es"/><path d="M1595.7 1992.9H1612.1" class="ec"/>
<rect x="1591.8" y="1994.6" width="24.3" height="37.4" fill="url(#F10)" class="b"/>
<path d="M1628.2 1989.9V1986.3" class="es"/><path d="M1620 1986.3H1636.4" class="ec"/>
<rect x="1616" y="1990.6" width="24.3" height="41.4" fill="url(#F11)" class="b"/>
<path d="M1652.5 1997.9V1995.1" class="es"/><path d="M1644.3 1995.1H1660.7" class="ec"/>
<rect x="1640.3" y="1998.6" width="24.3" height="33.4" fill="#d5d5d5" class="b"/>
<path d="M1676.8 2010.4V2007.1" class="es"/><path d="M1668.6 2007.1H1685" class="ec"/>
<rect x="1664.7" y="2011.1" width="24.3" height="20.9" fill="url(#F13)" class="b"/>
<path d="M1701.1 2005.9V2004.9" class="es"/><path d="M1692.9 2004.9H1709.3" class="ec"/>
<rect x="1689" y="2006.6" width="24.3" height="25.4" fill="url(#F14)" class="b"/>
<path d="M1748.9 1989.9V1987.1" class="es"/><path d="M1740.7 1987.1H1757.1" class="ec"/>
<rect x="1736.8" y="1990.6" width="24.3" height="41.4" fill="url(#F15)" class="b"/>
<path d="M1773.2 1993.4V1990.6" class="es"/><path d="M1765 1990.6H1781.4" class="ec"/>
<rect x="1761" y="1994.1" width="24.3" height="37.9" fill="url(#F16)" class="b"/>
<path d="M1797.5 2002.4V1992.5" class="es"/><path d="M1789.3 1992.5H1805.7" class="ec"/>
<rect x="1785.3" y="2003.1" width="24.3" height="28.9" fill="#d5d5d5" class="b"/>
<path d="M1821.8 1999.2V1995.1" class="es"/><path d="M1813.6 1995.1H1830" class="ec"/>
<rect x="1809.7" y="1999.9" width="24.3" height="32.1" fill="url(#F18)" class="b"/>
<path d="M1846.1 1996.6V1993.3" class="es"/><path d="M1837.9 1993.3H1854.3" class="ec"/>
<rect x="1834" y="1997.2" width="24.3" height="34.7" fill="url(#F19)" class="b"/>
</g>
<g id="panelG">
<text x="99.5" y="2266" font-size="76" font-weight="bold">G</text>
<text x="174.7" y="2320.3" font-size="54.9">HGMVEC betaglycan mRNA</text>
<text transform="translate(136.4,2580.3) rotate(-90)" font-size="54.9" text-anchor="middle">Fold increase</text>
<text x="34.8" y="2893.8" font-size="54.9">Time (hrs)</text>
<path d="M237.6 2392.9V2791.9" stroke-width="4.5" class="ax"/>
<path d="M222.5 2395.2H237.6M222.5 2474.1H237.6M222.5 2552.4H237.6M222.5 2631.8H237.6M222.5 2710.4H237.6M222.5 2789.6H237.6" stroke-width="4.5" class="ax"/>
<text x="220.5" y="2413.9" font-size="55.6" text-anchor="end">10</text>
<text x="220.5" y="2492.8" font-size="55.6" text-anchor="end">8</text>
<text x="220.5" y="2571.1" font-size="55.6" text-anchor="end">6</text>
<text x="220.5" y="2650.5" font-size="55.6" text-anchor="end">4</text>
<text x="220.5" y="2729.1" font-size="55.6" text-anchor="end">2</text>
<text x="220.5" y="2808.3" font-size="55.6" text-anchor="end">0</text>
<path d="M279.9 2833.5H897.9" stroke-width="4.5" class="ax"/>
<path d="M359.1 2833.5V2847.5M511.2 2833.5V2847.5M665.3 2833.5V2847.5M817.2 2833.5V2847.5" stroke-width="5" class="ax"/>
<text x="354.6" y="2894.5" font-size="54.9" text-anchor="middle">6</text>
<text x="511.2" y="2894.5" font-size="54.9" text-anchor="middle">12</text>
<text x="665.3" y="2894.5" font-size="54.9" text-anchor="middle">24</text>
<text x="816.2" y="2894.5" font-size="54.9" text-anchor="middle">48</text>
<path d="M306.4 2745.9V2743.1" class="es"/><path d="M298.2 2743.1H314.6" class="ec"/>
<rect x="293.5" y="2746.6" width="25.7" height="41.9" fill="url(#G0)" class="b"/>
<path d="M332.1 2758.4V2755.1" class="es"/><path d="M323.9 2755.1H340.3" class="ec"/>
<rect x="319.3" y="2759.1" width="25.7" height="29.4" fill="url(#G1)" class="b"/>
<path d="M357.8 2762.9V2753.5" class="es"/><path d="M349.6 2753.5H366" class="ec"/>
<rect x="345" y="2763.6" width="25.7" height="24.9" fill="#d5d5d5" class="b"/>
<path d="M383.6 2762.9V2757" class="es"/><path d="M375.4 2757H391.8" class="ec"/>
<rect x="370.7" y="2763.6" width="25.7" height="24.9" fill="url(#G3)" class="b"/>
<path d="M409.3 2761.1V2751.6" class="es"/><path d="M401.1 2751.6H417.5" class="ec"/>
<rect x="396.4" y="2761.8" width="25.7" height="26.7" fill="url(#G4)" class="b"/>
<path d="M459.7 2762.4V2759.6" class="es"/><path d="M451.5 2759.6H467.9" class="ec"/>
<rect x="446.8" y="2763.1" width="25.7" height="25.4" fill="url(#G5)" class="b"/>
<path d="M485.4 2761.9V2757" class="es"/><path d="M477.2 2757H493.6" class="ec"/>
<rect x="472.6" y="2762.6" width="25.7" height="25.9" fill="url(#G6)" class="b"/>
<path d="M511.1 2771.7V2769.8" class="es"/><path d="M502.9 2769.8H519.4" class="ec"/>
<rect x="498.3" y="2772.3" width="25.7" height="16.1" fill="#d5d5d5" class="b"/>
<path d="M536.9 2777.9V2774.3" class="es"/><path d="M528.7 2774.3H545.1" class="ec"/>
<rect x="524" y="2778.6" width="25.7" height="9.9" fill="url(#G8)" class="b"/>
<path d="M562.6 2775.7V2772.4" class="es"/><path d="M554.4 2772.4H570.8" class="ec"/>
<rect x="549.7" y="2776.3" width="25.7" height="12.1" fill="url(#G9)" class="b"/>
<path d="M613.9 2761.2V2751.8" class="es"/><path d="M605.7 2751.8H622.1" class="ec"/>
<rect x="601" y="2761.8" width="25.7" height="26.6" fill="url(#G10)" class="b"/>
<path d="M639.6 2761.2V2749.9" class="es"/><path d="M631.4 2749.9H647.8" class="ec"/>
<rect x="626.8" y="2761.8" width="25.7" height="26.6" fill="url(#G11)" class="b"/>
<path d="M665.4 2778.6V2773.1" class="es"/><path d="M657.1 2773.1H673.6" class="ec"/>
<rect x="652.5" y="2779.2" width="25.7" height="9.2" fill="#d5d5d5" class="b"/>
<path d="M691.1 2781.2V2775" class="es"/><path d="M682.9 2775H699.3" class="ec"/>
<rect x="678.2" y="2781.8" width="25.7" height="6.6" fill="url(#G13)" class="b"/>
<path d="M716.8 2779.4V2777.1" class="es"/><path d="M708.6 2777.1H725" class="ec"/>
<rect x="703.9" y="2780.1" width="25.7" height="8.4" fill="url(#G14)" class="b"/>
<path d="M766.4 2766V2758.5" class="es"/><path d="M758.2 2758.5H774.6" class="ec"/>
<rect x="753.5" y="2766.7" width="25.7" height="21.8" fill="url(#G15)" class="b"/>
<path d="M792.1 2767.4V2759.8" class="es"/><path d="M783.9 2759.8H800.3" class="ec"/>
<rect x="779.3" y="2768.1" width="25.7" height="20.4" fill="url(#G16)" class="b"/>
<path d="M817.9 2760.7V2756.3" class="es"/><path d="M809.6 2756.3H826.1" class="ec"/>
<rect x="805" y="2761.3" width="25.7" height="27.1" fill="#d5d5d5" class="b"/>
<path d="M843.6 2778.6V2776.6" class="es"/><path d="M835.4 2776.6H851.8" class="ec"/>
<rect x="830.7" y="2779.2" width="25.7" height="9.2" fill="url(#G18)" class="b"/>
<path d="M869.3 2777.8V2776.6" class="es"/><path d="M861.1 2776.6H877.5" class="ec"/>
<rect x="856.4" y="2778.5" width="25.7" height="10" fill="url(#G19)" class="b"/>
</g>
<g id="panelH">
<text x="1174.8" y="2263.3" font-size="76" font-weight="bold">H</text>
<text x="1207.6" y="2329.2" font-size="54.6">HUVEC betaglycan mRNA</text>
<text transform="translate(1145.9,2589) rotate(-90)" font-size="54.6" text-anchor="middle">Fold increase</text>
<text x="1045.4" y="2900.5" font-size="54.6">Time (hrs)</text>
<path d="M1247.2 2402.2V2798.6" stroke-width="4.5" class="ax"/>
<path d="M1232 2404.5H1247.2M1232 2482.6H1247.2M1232 2560.7H1247.2M1232 2639H1247.2M1232 2717.9H1247.2M1232 2796.3H1247.2" stroke-width="4.5" class="ax"/>
<text x="1230" y="2423.1" font-size="55.3" text-anchor="end">10</text>
<text x="1230" y="2501.2" font-size="55.3" text-anchor="end">8</text>
<text x="1230" y="2579.3" font-size="55.3" text-anchor="end">6</text>
<text x="1230" y="2657.6" font-size="55.3" text-anchor="end">4</text>
<text x="1230" y="2736.5" font-size="55.3" text-anchor="end">2</text>
<text x="1230" y="2814.9" font-size="55.3" text-anchor="end">0</text>
<path d="M1288.7 2840.6H1903" stroke-width="4.5" class="ax"/>
<path d="M1366.6 2840.6V2854.6M1519.8 2840.6V2854.6M1671.4 2840.6V2854.6M1824.3 2840.6V2854.6" stroke-width="5" class="ax"/>
<text x="1362.1" y="2901.3" font-size="54.6" text-anchor="middle">6</text>
<text x="1519.8" y="2901.3" font-size="54.6" text-anchor="middle">12</text>
<text x="1671.4" y="2901.3" font-size="54.6" text-anchor="middle">24</text>
<text x="1823.3" y="2901.3" font-size="54.6" text-anchor="middle">48</text>
<path d="M1315.1 2755.8V2754.9" class="es"/><path d="M1306.9 2754.9H1323.3" class="ec"/>
<rect x="1302.4" y="2756.5" width="25.5" height="39.6" fill="url(#H0)" class="b"/>
<path d="M1340.6 2755.2V2753.9" class="es"/><path d="M1332.4 2753.9H1348.8" class="ec"/>
<rect x="1327.9" y="2755.8" width="25.5" height="40.2" fill="url(#H1)" class="b"/>
<path d="M1366.2 2767V2765.9" class="es"/><path d="M1358 2765.9H1374.4" class="ec"/>
<rect x="1353.4" y="2767.7" width="25.5" height="28.4" fill="#d5d5d5" class="b"/>
<path d="M1391.7 2767.7V2766.4" class="es"/><path d="M1383.5 2766.4H1399.9" class="ec"/>
<rect x="1378.9" y="2768.3" width="25.5" height="27.7" fill="url(#H3)" class="b"/>
<path d="M1417.2 2769.6V2766.9" class="es"/><path d="M1409 2766.9H1425.4" class="ec"/>
<rect x="1404.4" y="2770.2" width="25.5" height="25.8" fill="url(#H4)" class="b"/>
<path d="M1468.1 2757.1V2755.9" class="es"/><path d="M1459.9 2755.9H1476.3" class="ec"/>
<rect x="1455.4" y="2757.8" width="25.5" height="38.3" fill="url(#H5)" class="b"/>
<path d="M1493.6 2755.8V2754.4" class="es"/><path d="M1485.4 2754.4H1501.8" class="ec"/>
<rect x="1480.9" y="2756.5" width="25.5" height="39.6" fill="url(#H6)" class="b"/>
<path d="M1519.2 2773.9V2772.9" class="es"/><path d="M1511 2772.9H1527.4" class="ec"/>
<rect x="1506.4" y="2774.6" width="25.5" height="21.5" fill="#d5d5d5" class="b"/>
<path d="M1544.7 2775.7V2774.9" class="es"/><path d="M1536.5 2774.9H1552.9" class="ec"/>
<rect x="1531.9" y="2776.3" width="25.5" height="19.7" fill="url(#H8)" class="b"/>
<path d="M1570.2 2777.1V2775.9" class="es"/><path d="M1562 2775.9H1578.4" class="ec"/>
<rect x="1557.4" y="2777.8" width="25.5" height="18.3" fill="url(#H9)" class="b"/>
<path d="M1621 2758V2756.9" class="es"/><path d="M1612.8 2756.9H1629.2" class="ec"/>
<rect x="1608.2" y="2758.7" width="25.5" height="37.4" fill="url(#H10)" class="b"/>
<path d="M1646.5 2758.6V2755.8" class="es"/><path d="M1638.3 2755.8H1654.7" class="ec"/>
<rect x="1633.8" y="2759.2" width="25.5" height="36.8" fill="url(#H11)" class="b"/>
<path d="M1672 2763.9V2761.1" class="es"/><path d="M1663.8 2761.1H1680.2" class="ec"/>
<rect x="1659.3" y="2764.6" width="25.5" height="31.5" fill="#d5d5d5" class="b"/>
<path d="M1697.6 2778.6V2776.9" class="es"/><path d="M1689.4 2776.9H1705.8" class="ec"/>
<rect x="1684.8" y="2779.2" width="25.5" height="16.8" fill="url(#H13)" class="b"/>
<path d="M1723.1 2778.6V2777.4" class="es"/><path d="M1714.9 2777.4H1731.3" class="ec"/>
<rect x="1710.3" y="2779.2" width="25.5" height="16.8" fill="url(#H14)" class="b"/>
<path d="M1772.9 2758.6V2756.3" class="es"/><path d="M1764.7 2756.3H1781.1" class="ec"/>
<rect x="1760.2" y="2759.2" width="25.5" height="36.8" fill="url(#H15)" class="b"/>
<path d="M1798.4 2759.1V2757.9" class="es"/><path d="M1790.2 2757.9H1806.6" class="ec"/>
<rect x="1785.7" y="2759.8" width="25.5" height="36.3" fill="url(#H16)" class="b"/>
<path d="M1824 2766V2764.9" class="es"/><path d="M1815.8 2764.9H1832.2" class="ec"/>
<rect x="1811.2" y="2766.7" width="25.5" height="29.4" fill="#d5d5d5" class="b"/>
<path d="M1849.5 2769.2V2766.5" class="es"/><path d="M1841.3 2766.5H1857.7" class="ec"/>
<rect x="1836.7" y="2769.8" width="25.5" height="26.2" fill="url(#H18)" class="b"/>
<path d="M1875 2769.2V2766.5" class="es"/><path d="M1866.8 2766.5H1883.2" class="ec"/>
<rect x="1862.2" y="2769.8" width="25.5" height="26.2" fill="url(#H19)" class="b"/>
</g>
<g id="legend">
<rect x="499.8" y="2976.6" width="53.2" height="45.4" fill="url(#pdl)" stroke="#000" stroke-width="5"/>
<rect x="499.8" y="3036.1" width="53.2" height="41.3" fill="url(#pgl)" stroke="#000" stroke-width="5"/>
<rect x="787.7" y="3092.8" width="51.8" height="48.9" fill="url(#py)" stroke="#000" stroke-width="5"/>
<rect x="945.8" y="2979.6" width="52.6" height="45.9" fill="url(#pydl)" stroke="#000" stroke-width="5"/>
<rect x="945.8" y="3035.5" width="52.6" height="45.7" fill="url(#phl)" stroke="#000" stroke-width="5"/>
<text x="581" y="3019.6" font-size="55.5" textLength="273.1" lengthAdjust="spacingAndGlyphs">0.1 nM Stx1</text>
<text x="582.2" y="3074.4" font-size="55.5" textLength="271.8" lengthAdjust="spacingAndGlyphs">1.0 nM Stx1</text>
<text x="867.7" y="3140.2" font-size="55.5" textLength="105.3" lengthAdjust="spacingAndGlyphs">TNF</text>
<text x="971.8" y="3140.5" font-size="55" textLength="34.5" lengthAdjust="spacingAndGlyphs" style="font-family:'Liberation Serif',serif">α</text>
<text x="1026.7" y="3022.2" font-size="55.5" textLength="104.7" lengthAdjust="spacingAndGlyphs">TNF</text>
<text x="1129.9" y="3022.5" font-size="55" textLength="35.7" lengthAdjust="spacingAndGlyphs" style="font-family:'Liberation Serif',serif">α</text>
<text x="1164.6" y="3022.2" font-size="55.5" textLength="304.7" lengthAdjust="spacingAndGlyphs">+0.1 nM Stx1</text>
<text x="1026.7" y="3078" font-size="55.5" textLength="104.7" lengthAdjust="spacingAndGlyphs">TNF</text>
<text x="1129.9" y="3078.3" font-size="55" textLength="35.7" lengthAdjust="spacingAndGlyphs" style="font-family:'Liberation Serif',serif">α</text>
<text x="1164.6" y="3078" font-size="55.5" textLength="304.7" lengthAdjust="spacingAndGlyphs">+1.0 nM Stx1</text>
</g>
</svg>
</body>
</html>
